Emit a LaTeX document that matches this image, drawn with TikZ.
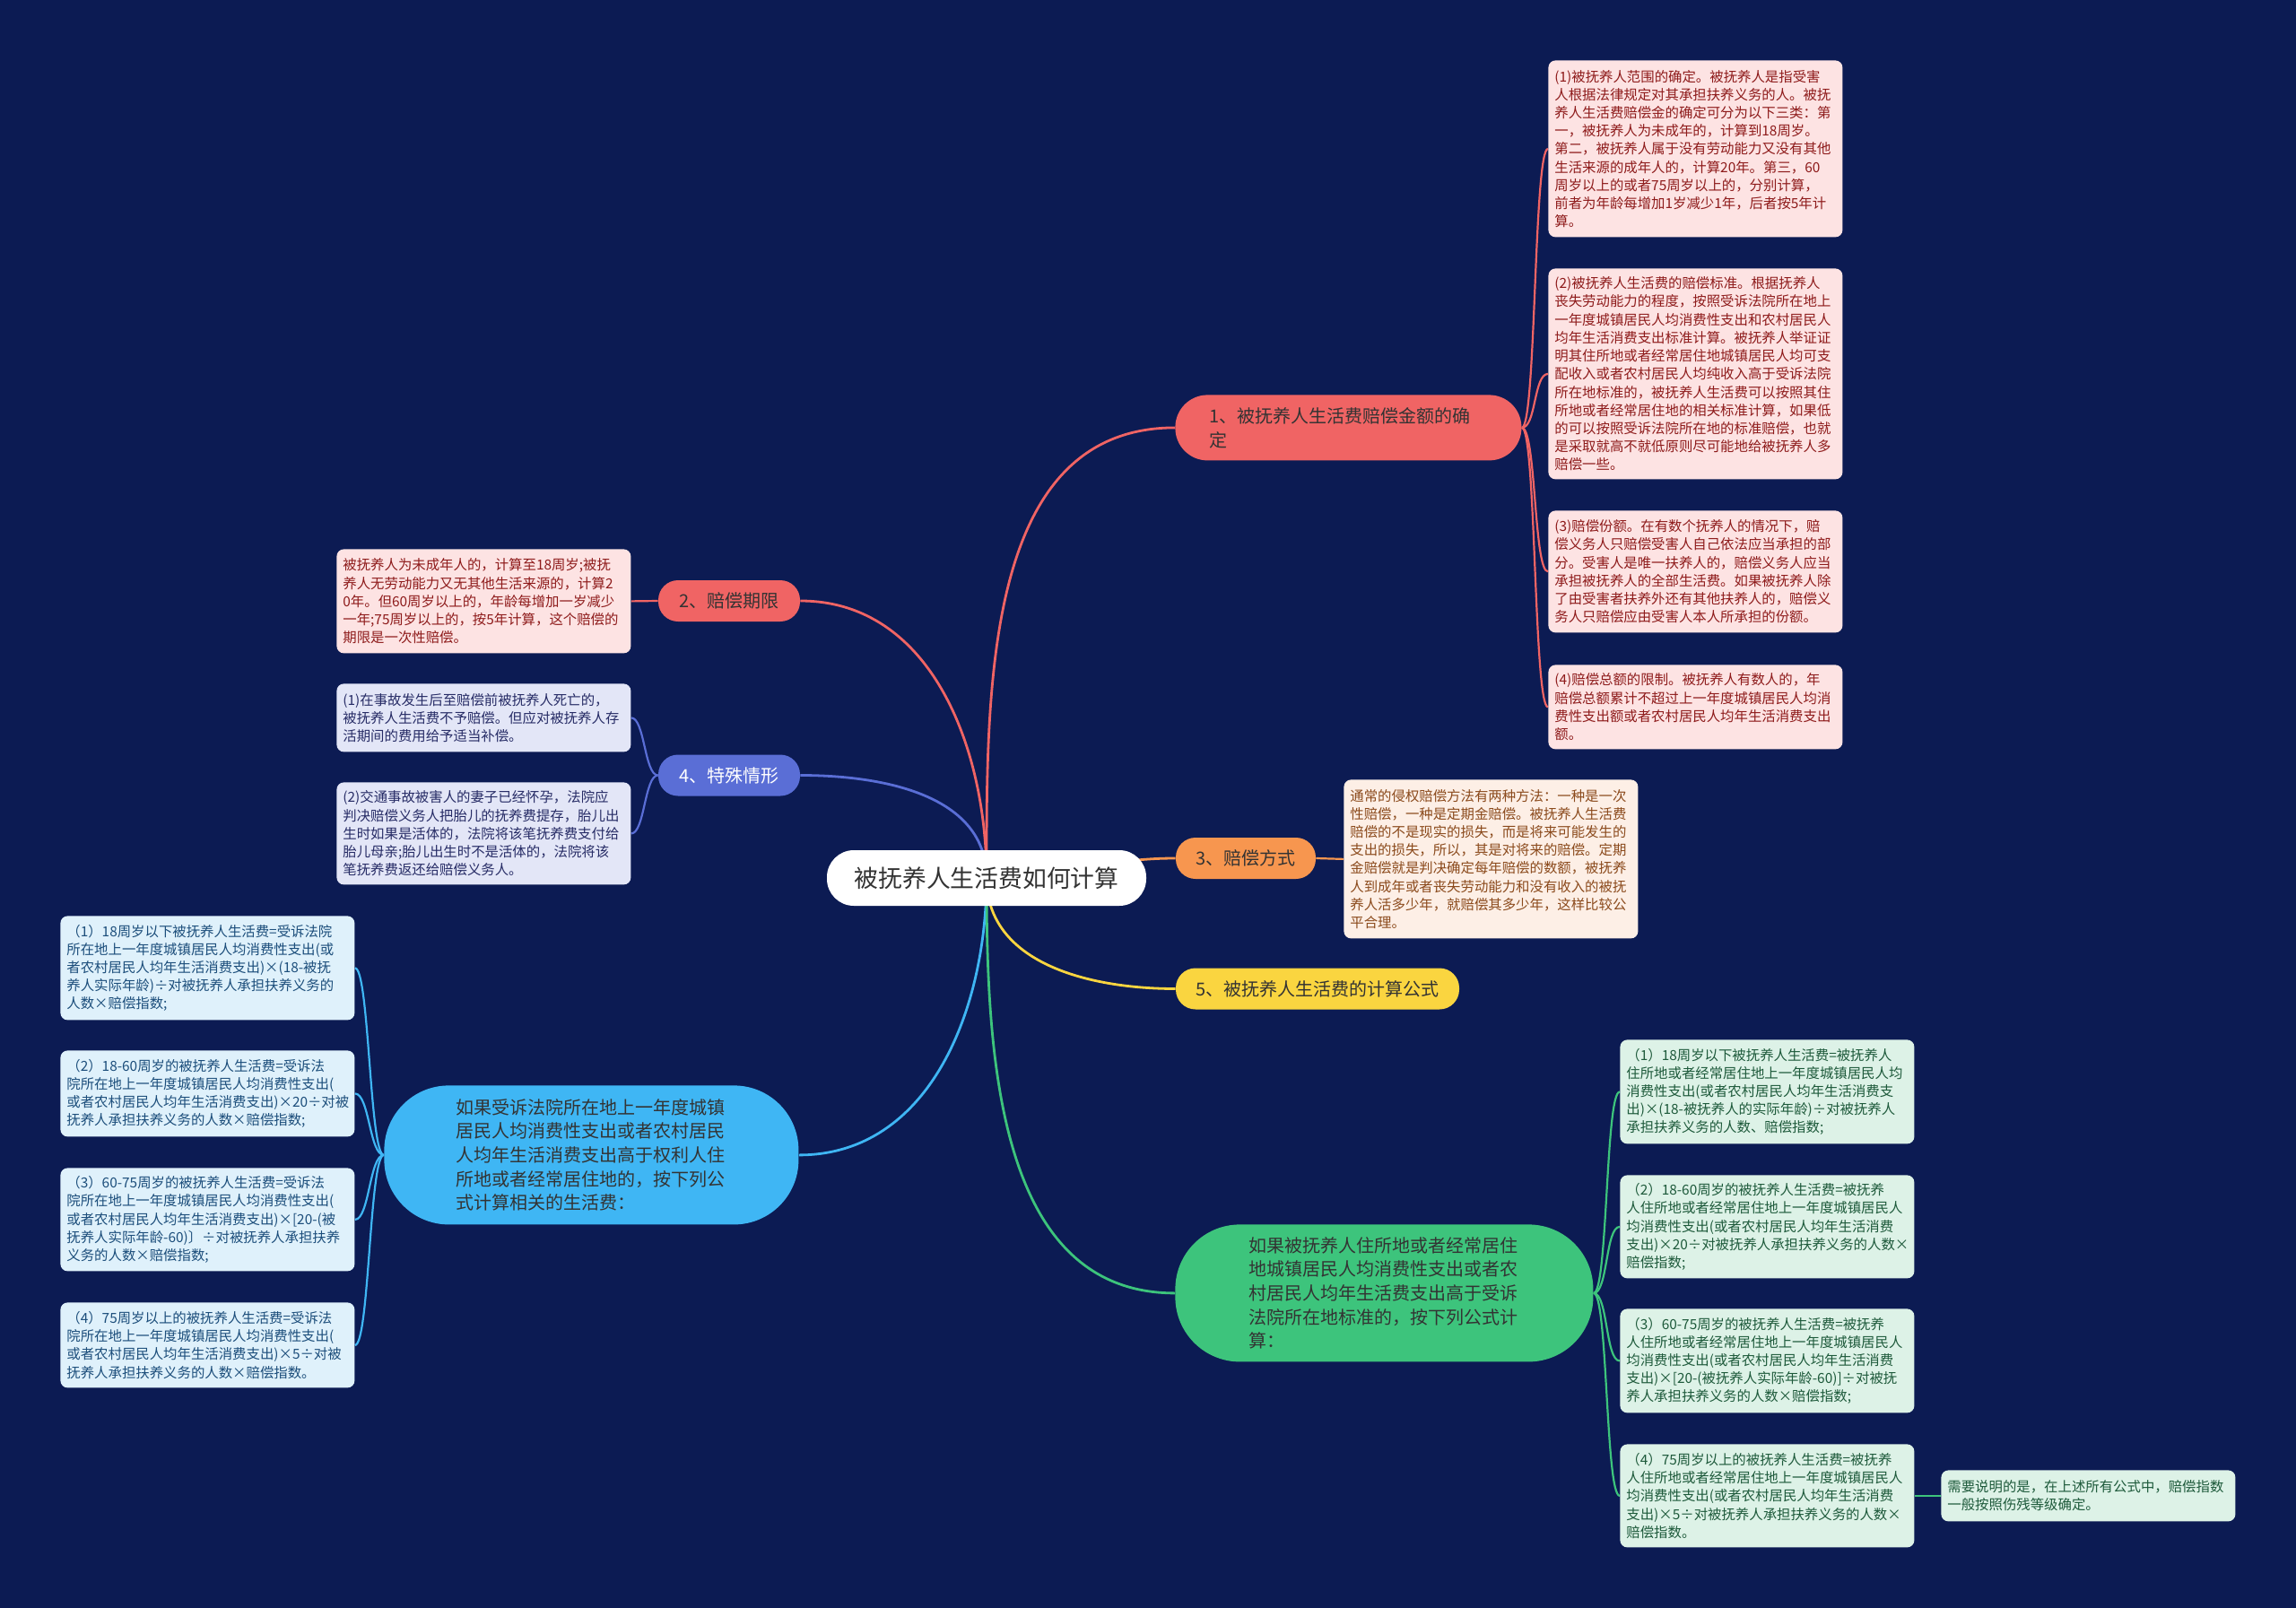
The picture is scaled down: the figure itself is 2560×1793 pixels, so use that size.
\documentclass[tikz,border=0pt]{standalone}
\usepackage{fontspec}
\newfontfamily\cjk{Noto Sans CJK SC}
\usetikzlibrary{backgrounds}
\definecolor{bgc}{HTML}{0C1B53}
\definecolor{cred}{HTML}{F06464}
\definecolor{corange}{HTML}{F7964F}
\definecolor{cyellow}{HTML}{FAD540}
\definecolor{cindigo}{HTML}{5A6ED6}
\definecolor{cblue}{HTML}{3FB6F4}
\definecolor{cgreen}{HTML}{3DC47C}
\definecolor{fpink}{HTML}{FDE3E3}
\definecolor{tpink}{HTML}{8E1B1B}
\definecolor{fpeach}{HTML}{FDEFE6}
\definecolor{tpeach}{HTML}{8B4A1C}
\definecolor{flav}{HTML}{E3E6F7}
\definecolor{tlav}{HTML}{272C66}
\definecolor{fsky}{HTML}{DFF1FB}
\definecolor{tsky}{HTML}{1C4E7B}
\definecolor{fmint}{HTML}{DDF2E7}
\definecolor{tmint}{HTML}{1E5A3B}
\definecolor{tdark}{HTML}{333333}
\begin{document}
\begin{tikzpicture}[x=0.5pt,y=-0.5pt,
  leaf/.style={anchor=north west, rounded corners=4pt, inner xsep=3.5pt, inner ysep=0pt,
    text width=157pt, align=left, font=\cjk\fontsize{7.7}{10.1}\selectfont},
  pinkbox/.style={leaf, fill=fpink, text=tpink},
  peachbox/.style={leaf, fill=fpeach, text=tpeach},
  lavbox/.style={leaf, fill=flav, text=tlav},
  skybox/.style={leaf, fill=fsky, text=tsky},
  mintbox/.style={leaf, fill=fmint, text=tmint},
  rootnode/.style={fill=white, rounded corners=15pt, minimum width=178pt, minimum height=31pt,
    inner sep=0pt, text=tdark, font=\cjk\fontsize{13.4}{16}\selectfont},
  branchnode/.style={rounded corners=11pt, minimum height=23pt, inner sep=0pt, text=tdark,
    font=\cjk\fontsize{10}{13.5}\selectfont},
  bignode/.style={anchor=north west, rounded corners=36pt, inner ysep=0pt, align=left, text width=151pt,
    text=tdark, font=\cjk\fontsize{10}{13.3}\selectfont},
  mainline/.style={line width=1.4pt},
  leafline/.style={line width=1.1pt}
]
\useasboundingbox (0,0) rectangle (2560,1793);

% ---------- root ----------
\node[rootnode] (root) at (1100,979) {被抚养人生活费如何计算};

% ---------- branches ----------
\node[branchnode, fill=cred, anchor=north west, minimum height=36.5pt, rounded corners=18pt,
  text width=155pt, inner xsep=19pt, align=left] (b1) at (1310,440) {1、被抚养人生活费赔偿金额的确\\定};
\node[branchnode, fill=cred, minimum width=79pt] (b2) at (813,670) {2、赔偿期限};
\node[branchnode, fill=cindigo, text=white, minimum width=79pt] (b4) at (813,864.5) {4、特殊情形};
\node[branchnode, fill=corange, minimum width=78pt] (b3) at (1389,957) {3、赔偿方式};
\node[branchnode, fill=cyellow, minimum width=158pt] (b5) at (1469,1102.5) {5、被抚养人生活费的计算公式};
\node[bignode, fill=cblue, inner xsep=40pt, minimum height=77.5pt] (bl) at (428,1210)
  {如果受诉法院所在地上一年度城镇\\居民人均消费性支出或者农村居民\\人均年生活消费支出高于权利人住\\所地或者经常居住地的，按下列公\\式计算相关的生活费：};
\node[bignode, fill=cgreen, inner xsep=41pt, minimum height=76.5pt] (gr) at (1310,1365)
  {如果被抚养人住所地或者经常居住\\地城镇居民人均消费性支出或者农\\村居民人均年生活费支出高于受诉\\法院所在地标准的，按下列公式计\\算：};

% ---------- branch 1 leaves ----------
\node[pinkbox, minimum height=98.5pt] (r1) at (1726,67)
  {(1)被抚养人范围的确定。被抚养人是指受害\\人根据法律规定对其承担扶养义务的人。被抚\\养人生活费赔偿金的确定可分为以下三类：第\\一，被抚养人为未成年的，计算到18周岁。\\第二，被抚养人属于没有劳动能力又没有其他\\生活来源的成年人的，计算20年。第三，60\\周岁以上的或者75周岁以上的，分别计算，\\前者为年龄每增加1岁减少1年，后者按5年计\\算。};
\node[pinkbox, minimum height=117.5pt] (r2) at (1726,299)
  {(2)被抚养人生活费的赔偿标准。根据抚养人\\丧失劳动能力的程度，按照受诉法院所在地上\\一年度城镇居民人均消费性支出和农村居民人\\均年生活消费支出标准计算。被抚养人举证证\\明其住所地或者经常居住地城镇居民人均可支\\配收入或者农村居民人均纯收入高于受诉法院\\所在地标准的，被抚养人生活费可以按照其住\\所地或者经常居住地的相关标准计算，如果低\\的可以按照受诉法院所在地的标准赔偿，也就\\是采取就高不就低原则尽可能地给被抚养人多\\赔偿一些。};
\node[pinkbox, minimum height=68pt] (r3) at (1726,569)
  {(3)赔偿份额。在有数个抚养人的情况下，赔\\偿义务人只赔偿受害人自己依法应当承担的部\\分。受害人是唯一扶养人的，赔偿义务人应当\\承担被抚养人的全部生活费。如果被抚养人除\\了由受害者扶养外还有其他扶养人的，赔偿义\\务人只赔偿应由受害人本人所承担的份额。};
\node[pinkbox, minimum height=47pt] (r4) at (1726,741)
  {(4)赔偿总额的限制。被抚养人有数人的，年\\赔偿总额累计不超过上一年度城镇居民人均消\\费性支出额或者农村居民人均年生活消费支出\\额。};

% ---------- branch 3 leaf ----------
\node[peachbox, minimum height=88.5pt] (p1) at (1498,869)
  {通常的侵权赔偿方法有两种方法：一种是一次\\性赔偿，一种是定期金赔偿。被抚养人生活费\\赔偿的不是现实的损失，而是将来可能发生的\\支出的损失，所以，其是对将来的赔偿。定期\\金赔偿就是判决确定每年赔偿的数额，被抚养\\人到成年或者丧失劳动能力和没有收入的被抚\\养人活多少年，就赔偿其多少年，这样比较公\\平合理。};

% ---------- branch 2 leaf ----------
\node[pinkbox, minimum height=58pt] (q1) at (375,612)
  {被抚养人为未成年人的，计算至18周岁;被抚\\养人无劳动能力又无其他生活来源的，计算2\\0年。但60周岁以上的，年龄每增加一岁减少\\一年;75周岁以上的，按5年计算，这个赔偿的\\期限是一次性赔偿。};

% ---------- branch 4 leaves ----------
\node[lavbox, minimum height=38pt] (s1) at (375,762)
  {(1)在事故发生后至赔偿前被抚养人死亡的，\\被抚养人生活费不予赔偿。但应对被抚养人存\\活期间的费用给予适当补偿。};
\node[lavbox, minimum height=57pt] (s2) at (375,872)
  {(2)交通事故被害人的妻子已经怀孕，法院应\\判决赔偿义务人把胎儿的抚养费提存，胎儿出\\生时如果是活体的，法院将该笔抚养费支付给\\胎儿母亲;胎儿出生时不是活体的，法院将该\\笔抚养费返还给赔偿义务人。};

% ---------- blue node leaves ----------
\node[skybox, minimum height=58pt] (L1) at (67,1021)
  {（1）18周岁以下被抚养人生活费=受诉法院\\所在地上一年度城镇居民人均消费性支出(或\\者农村居民人均年生活消费支出)×(18-被抚\\养人实际年龄)÷对被抚养人承担扶养义务的\\人数×赔偿指数;};
\node[skybox, minimum height=48pt] (L2) at (67,1171)
  {（2）18-60周岁的被抚养人生活费=受诉法\\院所在地上一年度城镇居民人均消费性支出(\\或者农村居民人均年生活消费支出)×20÷对被\\抚养人承担扶养义务的人数×赔偿指数;};
\node[skybox, minimum height=57.5pt] (L3) at (67,1302)
  {（3）60-75周岁的被抚养人生活费=受诉法\\院所在地上一年度城镇居民人均消费性支出(\\或者农村居民人均年生活消费支出)×[20-(被\\抚养人实际年龄-60)〕÷对被抚养人承担扶养\\义务的人数×赔偿指数;};
\node[skybox, minimum height=47.5pt] (L4) at (67,1452)
  {（4）75周岁以上的被抚养人生活费=受诉法\\院所在地上一年度城镇居民人均消费性支出(\\或者农村居民人均年生活消费支出)×5÷对被\\抚养人承担扶养义务的人数×赔偿指数。};

% ---------- green node leaves ----------
\node[mintbox, minimum height=58pt] (G1) at (1806,1159)
  {（1）18周岁以下被抚养人生活费=被抚养人\\住所地或者经常居住地上一年度城镇居民人均\\消费性支出(或者农村居民人均年生活消费支\\出)×(18-被抚养人的实际年龄)÷对被抚养人\\承担扶养义务的人数、赔偿指数;};
\node[mintbox, minimum height=57.5pt] (G2) at (1806,1310)
  {（2）18-60周岁的被抚养人生活费=被抚养\\人住所地或者经常居住地上一年度城镇居民人\\均消费性支出(或者农村居民人均年生活消费\\支出)×20÷对被抚养人承担扶养义务的人数×\\赔偿指数;};
\node[mintbox, minimum height=58pt] (G3) at (1806,1459)
  {（3）60-75周岁的被抚养人生活费=被抚养\\人住所地或者经常居住地上一年度城镇居民人\\均消费性支出(或者农村居民人均年生活消费\\支出)×[20-(被抚养人实际年龄-60)]÷对被抚\\养人承担扶养义务的人数×赔偿指数;};
\node[mintbox, minimum height=57.5pt] (G4) at (1806,1610)
  {（4）75周岁以上的被抚养人生活费=被抚养\\人住所地或者经常居住地上一年度城镇居民人\\均消费性支出(或者农村居民人均年生活消费\\支出)×5÷对被抚养人承担扶养义务的人数×\\赔偿指数。};
\node[mintbox, minimum height=28.5pt] (N1) at (2164,1639)
  {需要说明的是，在上述所有公式中，赔偿指数\\一般按照伤残等级确定。};

% ---------- connectors ----------
\begin{pgfonlayer}{background}
\fill[bgc] (0,0) rectangle (2560,1793);
\draw[cred, mainline] (root.center) to[out=90,in=180] (b1.west);
\draw[cred, mainline] (root.center) to[out=90,in=0] (b2.east);
\draw[cindigo, mainline] (root.center) to[out=90,in=0] (b4.east);
\draw[corange, mainline] (root.center) to[out=0,in=180] (b3.west);
\draw[cyellow, mainline] (root.center) to[out=-90,in=180] (b5.west);
\draw[cblue, mainline] (root.center) to[out=-90,in=0] (bl.east);
\draw[cgreen, mainline] (root.center) to[out=-90,in=180] (gr.west);
\foreach \n in {r1,r2,r3,r4}
  \draw[cred, leafline] (b1.east) .. controls +(16,0) and +(-16,0) .. (\n.west);
\draw[corange, leafline] (b3.east) -- (p1.west);
\draw[cred, leafline] (b2.west) .. controls +(-14,0) and +(14,0) .. (q1.east);
\foreach \n in {s1,s2}
  \draw[cindigo, leafline] (b4.west) .. controls +(-15,0) and +(15,0) .. (\n.east);
\foreach \n in {L1,L2,L3,L4}
  \draw[cblue, leafline] (bl.west) .. controls +(-16,0) and +(16,0) .. (\n.east);
\foreach \n in {G1,G2,G3,G4}
  \draw[cgreen, leafline] (gr.east) .. controls +(16,0) and +(-16,0) .. (\n.west);
\draw[cgreen, leafline] (G4.east) -- (N1.west);
\end{pgfonlayer}
\end{tikzpicture}
\end{document}
